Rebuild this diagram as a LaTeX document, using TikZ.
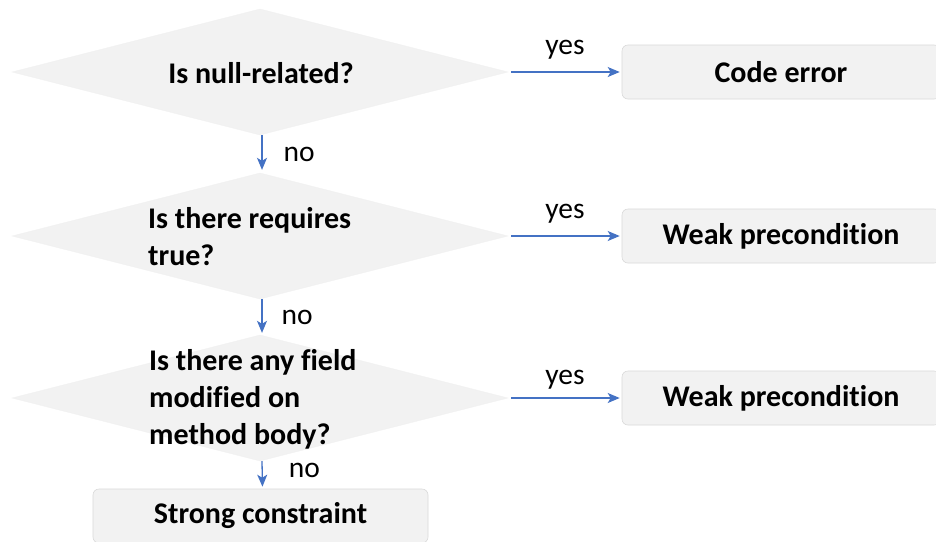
\documentclass[tikz,border=0pt]{standalone}
\usepackage{fontspec}
\setmainfont{Carlito}[Ligatures=NoCommon]
\usetikzlibrary{shapes.geometric,arrows.meta}
\definecolor{boxgray}{RGB}{242,242,242}
\definecolor{edgegray}{RGB}{218,218,218}
\definecolor{flowblue}{RGB}{68,114,196}

\begin{document}
\begin{tikzpicture}[x=1pt,y=-1pt,
  question/.style={diamond,fill=boxgray,draw=boxgray!90!black!40,line width=0.3pt,inner sep=0pt,minimum width=496pt,minimum height=126pt},
  qtext/.style={font=\bfseries\fontsize{30}{37}\selectfont,align=left,inner sep=0pt},
  outcome/.style={rounded corners=6pt,fill=boxgray,draw=edgegray,line width=0.6pt,minimum height=54pt,font=\bfseries\fontsize{30}{36}\selectfont},
  flow/.style={-{Stealth[length=12pt,width=10pt,inset=3pt]},draw=flowblue,line width=1.3pt},
  answer/.style={font=\fontsize{29.5}{34}\selectfont,inner sep=0pt}]
\useasboundingbox (0,0) rectangle (936,541);
\fill[white] (0,0) rectangle (936,541);

% the three questions
\node[question] (q1) at (260,72) {};
\node[qtext] (q1t) at (261,73) {Is null-related?};
\node[question] (q2) at (260,236) {};
\node[qtext,anchor=west] (q2t) at (148,237) {Is there requires\\true?};
\node[question] (q3) at (260,398) {};
\node[qtext,anchor=west] (q3t) at (149,399) {Is there any field\\modified on\\method body?};

% outcomes
\node[outcome,minimum width=318pt] (r1) at (781,72) {Code error};
\node[outcome,minimum width=318pt] (r2) at (781,236) {Weak precondition};
\node[outcome,minimum width=318pt] (r3) at (781,398) {Weak precondition};
\node[outcome,minimum width=335pt] (r4) at (260.5,516) {Strong constraint};

% yes branches
\draw[flow,shorten <=3pt,shorten >=2pt] (q1.east) -- node[answer,above=12pt] {yes} (r1.west);
\draw[flow,shorten <=3pt,shorten >=2pt] (q2.east) -- node[answer,above=12pt] {yes} (r2.west);
\draw[flow,shorten <=3pt,shorten >=2pt] (q3.east) -- node[answer,above=8pt] {yes} (r3.west);

% no branches
\draw[flow,shorten >=3pt] ([xshift=2pt]q1.south) -- node[answer,right=21pt] {no} ([xshift=2pt]q2.north);
\draw[flow,shorten >=2pt] ([xshift=2pt]q2.south) -- node[answer,right=19pt] {no} ([xshift=2pt]q3.north);
\draw[flow,shorten >=2pt] ([xshift=2pt]q3.south) -- node[answer,right=26pt,yshift=4pt] {no} ([xshift=2pt]r4.north);
\end{tikzpicture}
\end{document}
